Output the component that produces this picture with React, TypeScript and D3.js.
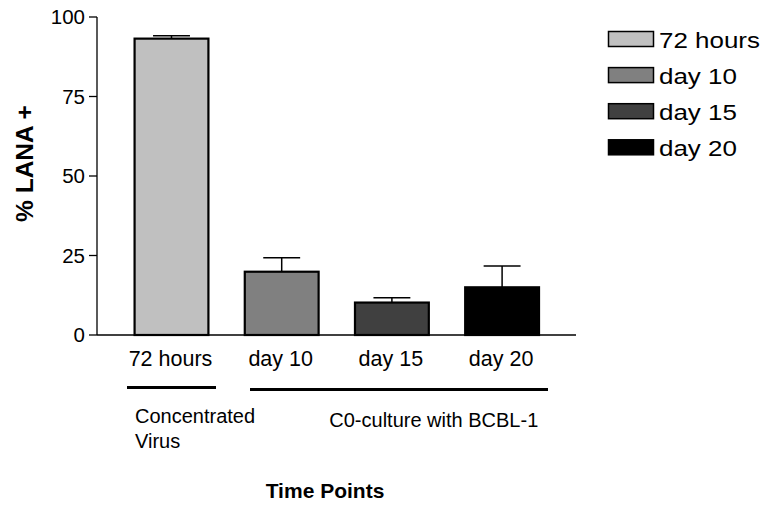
import React from "react";
import * as d3 from "d3";

const categories = ["72 hours", "day 10", "day 15", "day 20"];
const means = [93.2, 19.9, 10.2, 15.0];
const errors = [0.9, 4.4, 1.5, 6.7];
const barColors = ["#c0c0c0", "#808080", "#404040", "#000000"];
const yTicks = [0, 25, 50, 75, 100];
const groupLabels = [
  { lines: ["Concentrated", "Virus"], from: "72 hours", to: "72 hours" },
  { lines: ["C0-culture with BCBL-1"], from: "day 10", to: "day 20" },
];

const W = 768;
const H = 508;
const FONT = "'Liberation Sans', Arial, Helvetica, sans-serif";

export default function App() {
  const axisX = 97;
  const y = d3.scaleLinear().domain([0, 100]).range([335, 17]);
  const x = d3
    .scaleBand<string>()
    .domain(categories)
    .range([116.4, 557.2])
    .paddingInner(0.33)
    .paddingOuter(0.165);
  const bw = x.bandwidth();
  const y0 = y(0);

  return (
    <svg
      width={W}
      height={H}
      style={{ position: "absolute", left: 0, top: 0, background: "#fff" }}
      fontFamily={FONT}
    >
      <rect x={0} y={0} width={W} height={H} fill="#fff" />
      {/* bars */}
      {categories.map((c, i) => {
        const bx = x(c)!;
        const top = y(means[i]);
        const et = y(means[i] + errors[i]);
        const cx = bx + bw / 2;
        return (
          <g key={c}>
            <line x1={cx} x2={cx} y1={top} y2={et} stroke="#000" strokeWidth={1.5} />
            <line x1={cx - bw / 4} x2={cx + bw / 4} y1={et} y2={et} stroke="#000" strokeWidth={1.5} />
            <rect
              x={bx}
              y={top}
              width={bw}
              height={y0 - top}
              fill={barColors[i]}
              stroke="#000"
              strokeWidth={2.2}
            />
          </g>
        );
      })}
      {/* axes */}
      <line x1={axisX} x2={axisX} y1={y(100)} y2={y0} stroke="#000" strokeWidth={1.3} />
      <line x1={axisX} x2={576} y1={y0} y2={y0} stroke="#000" strokeWidth={1.3} />
      {yTicks.map((t) => (
        <g key={t}>
          <line x1={axisX - 8} x2={axisX} y1={y(t)} y2={y(t)} stroke="#000" strokeWidth={1.3} />
          <text x={axisX - 12} y={y(t)} dy="0.36em" textAnchor="end" fontSize={20.5}>
            {t}
          </text>
        </g>
      ))}
      {categories.map((c) => (
        <text key={c} x={x(c)! + bw / 2 - 1} y={366} textAnchor="middle" fontSize={21.5}>
          {c}
        </text>
      ))}
      {/* group underlines & labels */}
      <line x1={127} x2={216} y1={387.5} y2={387.5} stroke="#000" strokeWidth={3} />
      <line x1={250} x2={548} y1={389.5} y2={389.5} stroke="#000" strokeWidth={3} />
      <text x={135} y={422.7} fontSize={20}>
        {groupLabels[0].lines[0]}
      </text>
      <text x={135} y={447.7} fontSize={20}>
        {groupLabels[0].lines[1]}
      </text>
      <text x={329.3} y={426.7} fontSize={20}>
        {groupLabels[1].lines[0]}
      </text>
      {/* axis titles */}
      <text
        transform={`translate(33,${(103 + 224) / 2}) rotate(-90)`}
        textAnchor="middle"
        fontSize={24.5}
        fontWeight="bold"
      >
        % LANA +
      </text>
      <text x={325} y={498.3} textAnchor="middle" fontSize={21} fontWeight="bold">
        Time Points
      </text>
      {/* legend */}
      {categories.map((c, i) => (
        <g key={"lg" + c} transform={`translate(0,${i * 36.1})`}>
          <rect x={608.5} y={31.5} width={45} height={15} fill={barColors[i]} stroke="#000" strokeWidth={1.5} />
          <text transform="translate(659,47.7) scale(1.18,1)" x={0} y={0} fontSize={22}>
            {c}
          </text>
        </g>
      ))}
    </svg>
  );
}
